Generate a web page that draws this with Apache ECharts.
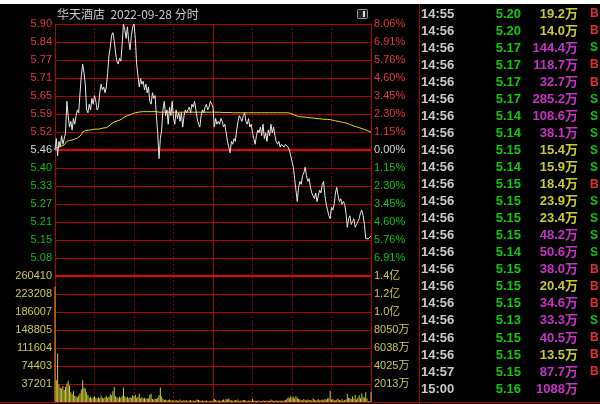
<!DOCTYPE html>
<html><head><meta charset="utf-8">
<script src="https://cdn.jsdelivr.net/npm/echarts/dist/echarts.min.js"></script>
<style>html,body{margin:0;padding:0;background:#000;}#c{width:600px;height:404px;}</style>
</head><body><div id="c"></div>
<script>
const chartTitle = '华天酒店  2022-09-28 分时';
const prevClose = 5.46;
const pctTop = 8.06;
const leftPriceLabels = ['', '5.08','5.15','5.21','5.27','5.33','5.40','5.46','5.52','5.59','5.65','5.71','5.77','5.84','5.90'];
const rightPctLabels = ['', '6.91%','5.76%','4.60%','3.45%','2.30%','1.15%','0.00%','1.15%','2.30%','3.45%','4.60%','5.76%','6.91%','8.06%'];
const volMax = 260410;
const volLeftLabels = ['', '37201','74403','111604','148805','186007','223208','260410'];
const volRightLabels = ['', '2013万','4025万','6038万','8050万','1.0亿','1.2亿','1.4亿'];

const price = [
5.46,5.50,5.44,5.49,5.47,5.51,5.48,5.50,5.52,5.63,
5.58,5.54,5.56,5.53,5.57,5.55,5.58,5.60,5.59,5.66,
5.72,5.76,5.73,5.69,5.60,5.59,5.62,5.60,5.64,5.62,
5.65,5.63,5.60,5.61,5.66,5.69,5.67,5.68,5.66,5.68,
5.73,5.79,5.82,5.86,5.87,5.84,5.80,5.77,5.76,5.78,
5.77,5.83,5.90,5.88,5.85,5.89,5.84,5.81,5.86,5.89,
5.90,5.85,5.76,5.72,5.68,5.71,5.69,5.70,5.67,5.69,
5.66,5.68,5.63,5.62,5.66,5.64,5.65,5.58,5.52,5.43,
5.50,5.53,5.60,5.63,5.58,5.60,5.55,5.61,5.58,5.63,
5.57,5.55,5.60,5.57,5.59,5.56,5.59,5.54,5.58,5.60,
5.59,5.60,5.61,5.59,5.62,5.61,5.63,5.60,5.57,5.55,
5.54,5.58,5.60,5.59,5.61,5.62,5.60,5.61,5.63,5.62,
5.61,5.54,5.57,5.55,5.56,5.55,5.57,5.56,5.54,5.55,
5.52,5.49,5.47,5.45,5.49,5.48,5.50,5.49,5.53,5.56,
5.58,5.57,5.56,5.58,5.59,5.56,5.55,5.57,5.54,5.55,
5.52,5.50,5.48,5.51,5.53,5.52,5.54,5.51,5.55,5.50,
5.52,5.49,5.53,5.51,5.55,5.52,5.54,5.51,5.49,5.48,
5.49,5.47,5.48,5.48,5.47,5.48,5.48,5.47,5.46,5.44,
5.42,5.40,5.36,5.32,5.28,5.33,5.35,5.34,5.37,5.38,
5.40,5.37,5.35,5.36,5.33,5.31,5.30,5.29,5.31,5.28,
5.30,5.32,5.31,5.34,5.35,5.30,5.27,5.25,5.23,5.22,
5.26,5.25,5.27,5.31,5.33,5.30,5.28,5.29,5.27,5.28,
5.27,5.24,5.19,5.22,5.23,5.20,5.21,5.22,5.19,5.20,
5.21,5.22,5.24,5.25,5.23,5.20,5.15,5.15,5.15,5.15,
5.16];

const avgPrice = [
5.460,5.468,5.466,5.470,5.471,5.474,5.475,5.478,5.482,5.490,
5.492,5.493,5.494,5.495,5.497,5.498,5.500,5.502,5.503,5.508,
5.515,5.522,5.526,5.528,5.528,5.529,5.530,5.530,5.531,5.532,
5.533,5.533,5.533,5.533,5.534,5.535,5.536,5.537,5.537,5.538,
5.540,5.544,5.548,5.552,5.556,5.558,5.560,5.561,5.562,5.564,
5.566,5.569,5.573,5.576,5.578,5.580,5.582,5.583,5.585,5.587,
5.589,5.590,5.591,5.592,5.592,5.593,5.593,5.594,5.594,5.594,
5.594,5.594,5.594,5.594,5.594,5.594,5.594,5.594,5.593,5.592,
5.592,5.592,5.592,5.592,5.592,5.592,5.592,5.592,5.592,5.592,
5.592,5.592,5.592,5.592,5.592,5.592,5.592,5.592,5.592,5.592,
5.592,5.592,5.592,5.592,5.592,5.592,5.592,5.592,5.592,5.592,
5.592,5.592,5.592,5.592,5.592,5.592,5.592,5.592,5.592,5.592,
5.592,5.592,5.592,5.592,5.592,5.592,5.591,5.591,5.591,5.591,
5.591,5.591,5.591,5.591,5.591,5.590,5.590,5.590,5.590,5.590,
5.590,5.590,5.590,5.590,5.590,5.590,5.590,5.590,5.590,5.590,
5.590,5.590,5.590,5.590,5.590,5.590,5.590,5.590,5.590,5.590,
5.590,5.590,5.590,5.590,5.590,5.590,5.590,5.590,5.590,5.590,
5.590,5.590,5.590,5.590,5.590,5.590,5.590,5.590,5.589,5.588,
5.586,5.584,5.582,5.580,5.578,5.577,5.576,5.576,5.575,5.575,
5.575,5.574,5.574,5.573,5.573,5.572,5.572,5.571,5.571,5.570,
5.570,5.569,5.569,5.568,5.568,5.567,5.567,5.567,5.566,5.566,
5.565,5.564,5.563,5.562,5.561,5.560,5.559,5.558,5.557,5.556,
5.555,5.554,5.552,5.551,5.549,5.547,5.546,5.544,5.543,5.541,
5.540,5.538,5.537,5.535,5.534,5.532,5.530,5.528,5.526,5.524,
5.522];

const volume = [238000,
45000,100000,36000,30000,28000,33000,25000,31000,38000,44000,
34000,20000,16000,22000,13000,12000,10000,14000,18000,26000,
45000,30000,28000,20000,14000,9000,11000,8000,10000,12000,
9000,7000,10000,8000,13000,9000,7000,10000,12000,9000,
11000,16000,14000,22000,31000,12000,10000,8000,11000,9000,
13000,30000,12000,9000,11000,8000,10000,9000,14000,12000,
15000,9000,11000,17000,8000,10000,7000,9000,6000,8000,
7000,15000,17000,6000,5000,7000,6000,9000,14000,30000,
12000,6000,4000,5000,3000,4000,5000,3000,4000,2000,
3000,4000,2500,3000,5000,2000,3000,4000,2500,3500,
2000,3000,4000,2500,3000,2000,3500,5000,4000,3000,
2500,3000,2000,2500,3000,2000,1500,2500,2000,3000,
6000,4000,3000,2500,3000,2000,4000,5000,3000,6000,
5000,7000,4000,3000,2500,3000,4000,3000,5000,2000,
2500,3000,4000,3500,3000,2000,2500,3000,2000,6000,
3000,2500,2000,3000,2500,1500,2000,3000,2500,2000,
3000,2500,2000,5000,3000,2000,2500,3000,2000,2500,
3000,2000,2500,3000,4000,6000,10000,8000,12000,9000,
11000,7000,12000,9000,6000,5000,4000,3000,6000,4000,
3000,5000,4000,3500,3000,7000,5000,3000,4000,6000,
3000,4000,5000,3000,6000,5000,7000,8000,23000,5000,
6000,4000,3000,5000,7000,4000,3000,6000,2500,4000,
5000,17000,9000,8000,6000,12000,7000,15000,5000,9000,
14000,8000,18000,11000,9000,20000,7000,2000,1000,21000];

const tradeTimes = ['14:55','14:56','14:56','14:56','14:56','14:56','14:56','14:56','14:56','14:56','14:56','14:56','14:56','14:56','14:56','14:56','14:56','14:56','14:56','14:56','14:56','14:57','15:00'];
const tradePrices = ['5.20','5.20','5.17','5.17','5.17','5.17','5.14','5.14','5.15','5.14','5.15','5.15','5.15','5.15','5.14','5.15','5.15','5.15','5.13','5.15','5.15','5.15','5.16'];
const tradeAmounts = [19.2,14.0,144.4,118.7,32.7,285.2,108.6,38.1,15.4,15.9,18.4,23.9,23.4,48.2,50.6,38.0,20.4,34.6,33.3,40.5,13.5,87.7,1088];
const tradeSides = ['B','B','S','B','B','S','S','S','S','S','B','S','S','S','S','B','B','B','S','B','B','B',''];

// minute categories 09:30..11:30, 13:01..15:00
const times = [];
for (let i = 0; i <= 240; i++) {
  const m = i <= 120 ? 570 + i : 780 + (i - 120);
  times.push(String(Math.floor(m / 60)).padStart(2, '0') + ':' + String(m % 60).padStart(2, '0'));
}

const RED = '#b40000';
const BRIGHT = '#e80000';
const DOT = '#8c0000';
const FONT = "'Liberation Sans', Arial, 'Noto Sans CJK SC', sans-serif";

function xAxisFor(g) {
  return {
    type: 'category', gridIndex: g, data: times, boundaryGap: false,
    axisLine: { show: false }, axisTick: { show: false }, axisLabel: { show: false },
    splitLine: {
      show: true,
      interval: (idx) => idx % 30 === 0 && idx > 0 && idx < 240 && idx !== 120,
      lineStyle: { color: DOT, type: [2, 2], width: 1 }
    }
  };
}
function midAxisFor(g) {
  return {
    type: 'category', gridIndex: g, data: times, boundaryGap: false, show: true,
    axisLine: { show: false }, axisTick: { show: false }, axisLabel: { show: false },
    splitLine: { show: true, interval: (idx) => idx === 120, lineStyle: { color: RED, type: 'solid', width: 1 } }
  };
}
function priceColor(v) { const n = Math.round(v); return n > 0 ? '#e03a3a' : (n === 0 ? '#d8d8d8' : '#10c010'); }

const chart = echarts.init(document.getElementById('c'), null, { renderer: 'canvas' });

const tableEls = [];
tradeTimes.forEach((t, i) => {
  const y = 14 + i * 17.05;
  const amt = tradeAmounts[i];
  const amtColor = amt >= 30 ? '#c830c8' : '#c8c832';
  const amtText = (amt >= 1000 ? String(amt) : amt.toFixed(1)) + '万';
  tableEls.push(
    { type: 'text', style: { text: t, x: 421, y: y, fill: '#c8c8c8', font: 'bold 13px ' + FONT, textAlign: 'left', align: 'left', textVerticalAlign: 'middle', verticalAlign: 'middle' } },
    { type: 'text', style: { text: tradePrices[i], x: 521, y: y, fill: '#10c810', font: 'bold 13px ' + FONT, textAlign: 'right', align: 'right', textVerticalAlign: 'middle', verticalAlign: 'middle' } },
    { type: 'text', style: { text: amtText, x: 578, y: y, fill: amtColor, font: 'bold 13px ' + FONT, textAlign: 'right', align: 'right', textVerticalAlign: 'middle', verticalAlign: 'middle' } },
    { type: 'text', style: { text: tradeSides[i], x: 590, y: y, fill: tradeSides[i] === 'B' ? '#e03030' : '#10c010', font: 'bold 12px ' + FONT, textAlign: 'left', align: 'left', textVerticalAlign: 'middle', verticalAlign: 'middle' } }
  );
});

const option = {
  backgroundColor: '#000000',
  animation: false,
  grid: [
    { left: 55, top: 24, width: 316, height: 252 },
    { left: 55, top: 276, width: 316, height: 126 }
  ],
  xAxis: [xAxisFor(0), xAxisFor(1), midAxisFor(0), midAxisFor(1)],
  yAxis: [
    { type: 'value', gridIndex: 0, min: prevClose * (1 - pctTop / 100), max: prevClose * (1 + pctTop / 100), show: false },
    { type: 'value', gridIndex: 0, position: 'left', min: -7, max: 7, interval: 1,
      axisLine: { show: true, lineStyle: { color: RED } }, axisTick: { show: false },
      splitLine: { show: true, lineStyle: { color: RED, width: 1 } },
      axisLabel: { margin: 3, fontSize: 11, fontFamily: FONT, formatter: v => leftPriceLabels[Math.round(v) + 7], color: v => priceColor(v) } },
    { type: 'value', gridIndex: 0, position: 'right', min: -7, max: 7, interval: 1,
      axisLine: { show: true, lineStyle: { color: RED } }, axisTick: { show: false }, splitLine: { show: false },
      axisLabel: { margin: 3, fontSize: 11, fontFamily: FONT, formatter: v => rightPctLabels[Math.round(v) + 7], color: v => priceColor(v) } },
    { type: 'value', gridIndex: 1, position: 'left', min: 0, max: volMax, interval: volMax / 7,
      axisLine: { show: true, lineStyle: { color: RED } }, axisTick: { show: false },
      splitLine: { show: true, lineStyle: { color: RED, width: 1 } },
      axisLabel: { margin: 3, fontSize: 11, fontFamily: FONT, color: '#c8c850', formatter: v => volLeftLabels[Math.round(v / (volMax / 7))] } },
    { type: 'value', gridIndex: 1, position: 'right', min: 0, max: volMax, interval: volMax / 7,
      axisLine: { show: true, lineStyle: { color: RED } }, axisTick: { show: false }, splitLine: { show: false },
      axisLabel: { margin: 3, fontSize: 11, fontFamily: FONT, color: '#c8c850', formatter: v => volRightLabels[Math.round(v / (volMax / 7))] } }
  ],
  series: [
    { type: 'line', name: 'price', xAxisIndex: 0, yAxisIndex: 0, data: price, showSymbol: false, symbol: 'none',
      lineStyle: { color: '#e6e6e6', width: 1 }, z: 5,
      markLine: { silent: true, symbol: 'none', label: { show: false }, lineStyle: { color: BRIGHT, width: 2, type: 'solid', opacity: 1 },
        data: [ { yAxis: prevClose } ] } },
    { type: 'line', name: 'avg', xAxisIndex: 0, yAxisIndex: 0, data: avgPrice, showSymbol: false, symbol: 'none',
      lineStyle: { color: '#e8e010', width: 1 }, z: 4 },
    { type: 'bar', name: 'volume', xAxisIndex: 1, yAxisIndex: 3, data: volume, barWidth: 1,
      itemStyle: { color: p => p.dataIndex === 0 ? '#e0a828' : '#c8c83c' },
      markLine: { silent: true, symbol: 'none', label: { show: false }, lineStyle: { color: BRIGHT, width: 2, type: 'solid', opacity: 1 },
        data: [ { yAxis: volMax } ] } }
  ],
  graphic: [
    { type: 'rect', shape: { x: 0, y: 0, width: 600, height: 4 }, style: { fill: '#ffffff' }, silent: true },
    { type: 'text', style: { text: chartTitle, x: 57, y: 14, fill: '#c8c8c8', font: "12px 'Noto Sans CJK SC', " + FONT, textVerticalAlign: 'middle', verticalAlign: 'middle' } },
    { type: 'rect', shape: { x: 357.5, y: 9.5, width: 10, height: 9, r: 1 }, style: { fill: '#202020', stroke: '#909090', lineWidth: 1 } },
    { type: 'rect', shape: { x: 363, y: 11, width: 2, height: 6 }, style: { fill: '#e0e0e0' } },
    { type: 'line', shape: { x1: 419.5, y1: 4, x2: 419.5, y2: 404 }, style: { stroke: '#a00000', lineWidth: 1 } },
    { type: 'line', shape: { x1: 0, y1: 402.5, x2: 600, y2: 402.5 }, style: { stroke: RED, lineWidth: 1 } },
    ...tableEls
  ]
};
chart.setOption(option);
</script>
</body></html>
